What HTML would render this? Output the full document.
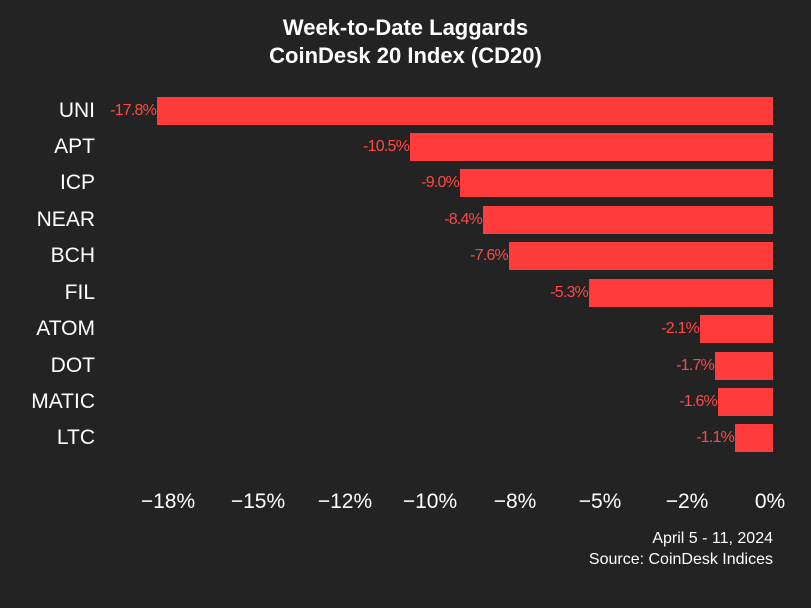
<!DOCTYPE html>
<html><head><meta charset="utf-8"><style>
body{margin:0;width:811px;height:608px;background:#232323;font-family:"Liberation Sans",sans-serif;position:relative;overflow:hidden;color:#fff}
.t{position:absolute;left:0;width:811px;text-align:center;font-weight:bold;font-size:22px}
.lab{position:absolute;right:716px;font-size:21px;color:#fff;height:28px;line-height:28px}
.bar{position:absolute;right:38px;height:28px;background:#ff3b3b}
.v{position:absolute;font-size:16px;color:#ff4848;height:28px;line-height:28px;text-align:right;letter-spacing:-0.8px}
.x{position:absolute;top:490px;font-size:21px;width:80px;margin-left:-40px;text-align:center}
.f{position:absolute;right:38px;font-size:16px;text-align:right}
</style></head><body>
<div class="t" style="top:15px">Week-to-Date Laggards</div>
<div class="t" style="top:43px">CoinDesk 20 Index (CD20)</div>
<div class="lab" style="top:97px">UNI</div><div class="bar" style="top:97px;left:157px"></div><div class="v" style="top:97px;right:655px">-17.8%</div>
<div class="lab" style="top:133px">APT</div><div class="bar" style="top:133px;left:410px"></div><div class="v" style="top:133px;right:402px">-10.5%</div>
<div class="lab" style="top:169px">ICP</div><div class="bar" style="top:169px;left:460px"></div><div class="v" style="top:169px;right:352px">-9.0%</div>
<div class="lab" style="top:206px">NEAR</div><div class="bar" style="top:206px;left:483px"></div><div class="v" style="top:206px;right:329px">-8.4%</div>
<div class="lab" style="top:242px">BCH</div><div class="bar" style="top:242px;left:509px"></div><div class="v" style="top:242px;right:303px">-7.6%</div>
<div class="lab" style="top:279px">FIL</div><div class="bar" style="top:279px;left:589px"></div><div class="v" style="top:279px;right:223px">-5.3%</div>
<div class="lab" style="top:315px">ATOM</div><div class="bar" style="top:315px;left:700px"></div><div class="v" style="top:315px;right:112px">-2.1%</div>
<div class="lab" style="top:352px">DOT</div><div class="bar" style="top:352px;left:715px"></div><div class="v" style="top:352px;right:97px">-1.7%</div>
<div class="lab" style="top:388px">MATIC</div><div class="bar" style="top:388px;left:718px"></div><div class="v" style="top:388px;right:94px">-1.6%</div>
<div class="lab" style="top:424px">LTC</div><div class="bar" style="top:424px;left:735px"></div><div class="v" style="top:424px;right:77px">-1.1%</div>
<div class="x" style="left:168px">−18%</div>
<div class="x" style="left:258px">−15%</div>
<div class="x" style="left:345px">−12%</div>
<div class="x" style="left:430px">−10%</div>
<div class="x" style="left:515px">−8%</div>
<div class="x" style="left:600px">−5%</div>
<div class="x" style="left:687px">−2%</div>
<div class="x" style="left:770px">0%</div>
<div class="f" style="top:530px">April 5 - 11, 2024</div>
<div class="f" style="top:551px">Source: CoinDesk Indices</div>
</body></html>
